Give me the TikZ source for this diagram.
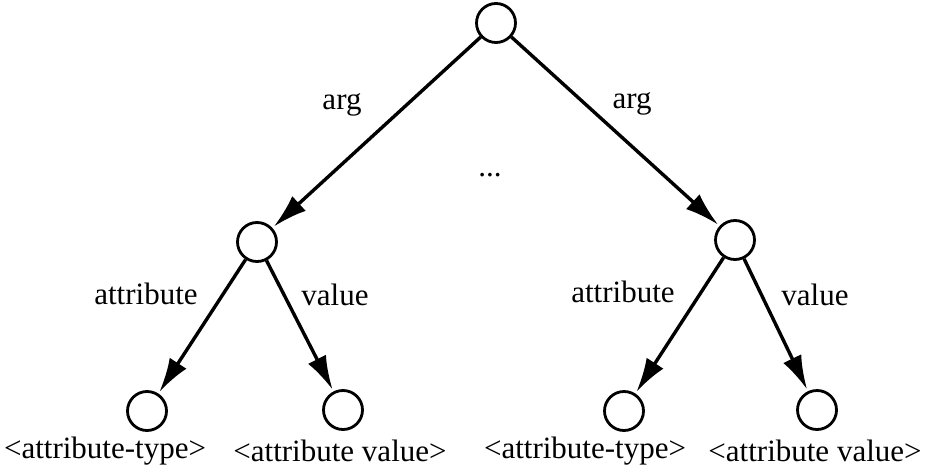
\documentclass[tikz,border=0pt]{standalone}
\usepackage{fontspec}
\setmainfont{Liberation Serif}
\usetikzlibrary{arrows.meta,positioning}

\begin{document}
\begin{tikzpicture}[x=.5pt,y=-.5pt,
  vertex/.style={circle,draw,line width=1.4pt,minimum size=19.5pt,inner sep=0pt},
  lab/.style={font=\fontsize{15.5}{18}\selectfont,inner sep=0pt},
  link/.style={line width=1.7pt,shorten >=1pt,-{Latex[length=17pt,width=10pt]}}]
  \useasboundingbox (0,0) rectangle (929,470);
  % tree nodes
  \node[vertex] (root) at (496,23) {};
  \node[vertex] (argL) at (257,242) {};
  \node[vertex] (argR) at (735,240) {};
  \node[vertex] (typeL) at (147,411) {};
  \node[vertex] (valL) at (343,410) {};
  \node[vertex] (typeR) at (624,411) {};
  \node[vertex] (valR) at (817,410) {};
  % arcs
  \draw[link] (root) -- (argL);
  \draw[link] (root) -- (argR);
  \draw[link] (argL) -- (typeL);
  \draw[link] (argL) -- (valL);
  \draw[link] (argR) -- (typeR);
  \draw[link] (argR) -- (valR);
  % arc labels
  \node[lab] (argLlab) at (342,105) {arg};
  \node[lab] (argRlab) at (632,104) {arg};
  \node[lab] (dots) at (490,175) {...};
  \node[lab] (attLlab) at (146,294) {attribute};
  \node[lab] (valLlab) at (335,295) {value};
  \node[lab] (attRlab) at (623,292) {attribute};
  \node[lab] (valRlab) at (815,295) {value};
  % leaf texts
  \node[lab] (typeLtxt) at (105,451) {<attribute-type>};
  \node[lab] (valLtxt) at (340,451) {<attribute value>};
  \node[lab] (typeRtxt) at (585,451) {<attribute-type>};
  \node[lab] (valRtxt) at (815,451) {<attribute value>};
\end{tikzpicture}
\end{document}
